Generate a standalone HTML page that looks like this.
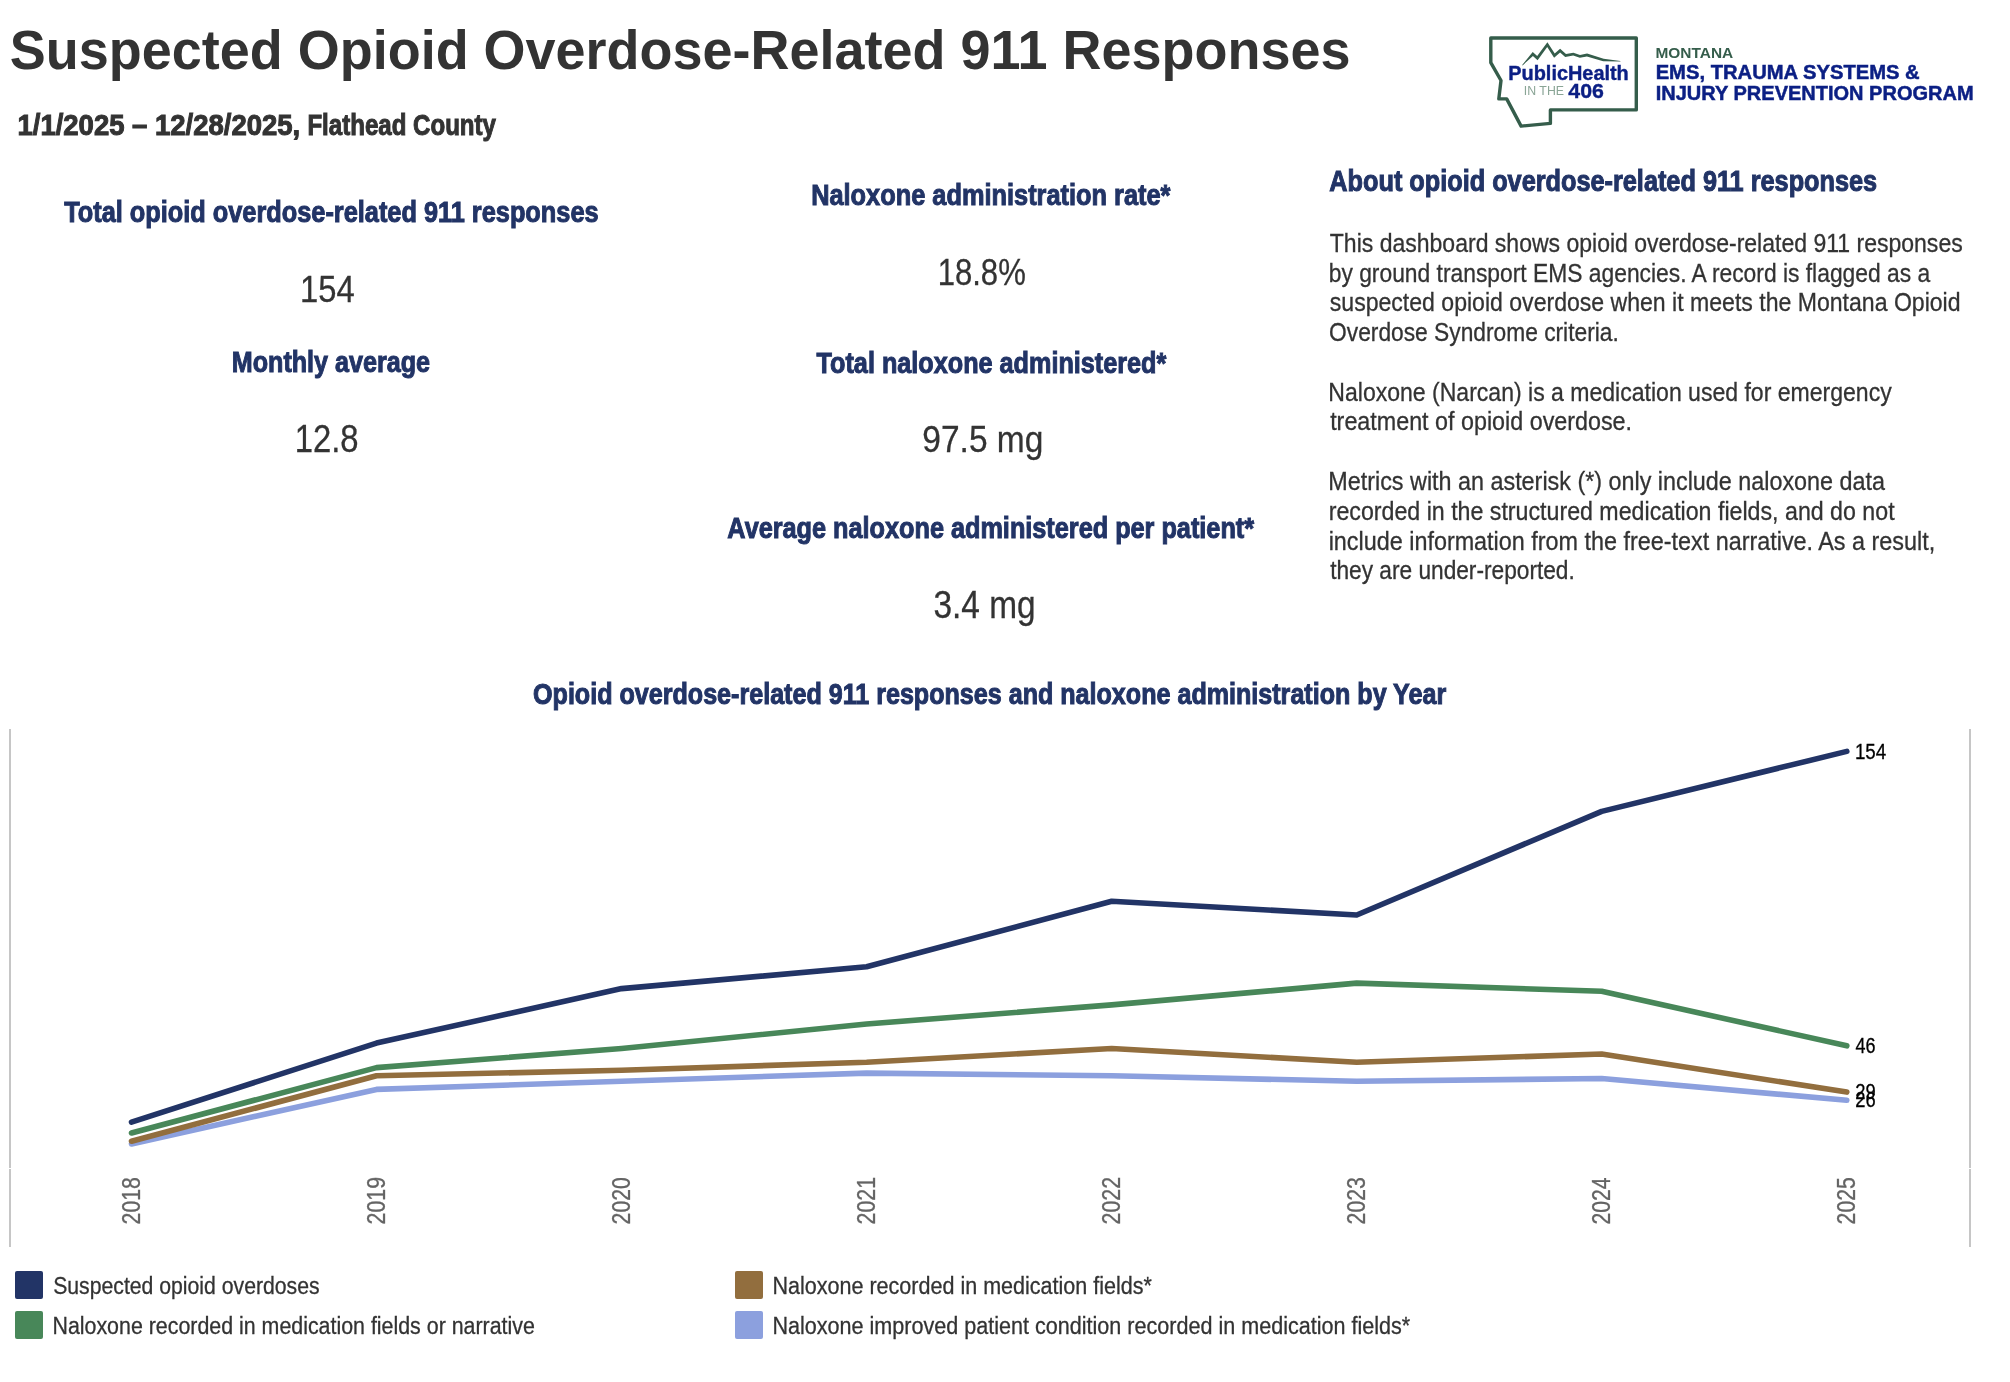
<!DOCTYPE html>
<html lang="en"><head><meta charset="utf-8"><title>Suspected Opioid Overdose-Related 911 Responses</title>
<style>
html,body{margin:0;padding:0;background:#fff;}
body{width:2010px;height:1382px;position:relative;overflow:hidden;font-family:"Liberation Sans",sans-serif;}
.abs{position:absolute;left:0;top:0;}
.txt{position:absolute;left:0;top:0;width:2010px;height:1382px;filter:grayscale(0.001);}
.t{position:absolute;left:0;top:0;white-space:nowrap;line-height:1;transform-origin:0 0;font-family:"Liberation Sans",sans-serif}
</style></head><body>
<svg class="abs" width="2010" height="1382" viewBox="0 0 2010 1382">
<rect x="9" y="729" width="2" height="439" fill="#c6c6c6"/><rect x="9" y="1169" width="2" height="78" fill="#c6c6c6"/>
<rect x="1969" y="729" width="2" height="439" fill="#c6c6c6"/><rect x="1969" y="1169" width="2" height="78" fill="#c6c6c6"/>
<polyline points="131.5,1143.9 376.5,1089.4 621.6,1081.2 866.6,1073.1 1111.7,1075.8 1356.7,1081.2 1601.7,1078.5 1846.8,1100.3" fill="none" stroke="#8ca0de" stroke-width="5.6" stroke-linecap="round" stroke-linejoin="round"/><polyline points="131.5,1141.2 376.5,1075.8 621.6,1070.3 866.6,1062.2 1111.7,1048.5 1356.7,1062.2 1601.7,1054.0 1846.8,1092.1" fill="none" stroke="#926e3e" stroke-width="5.6" stroke-linecap="round" stroke-linejoin="round"/><polyline points="131.5,1133.0 376.5,1067.6 621.6,1048.5 866.6,1024.0 1111.7,1004.9 1356.7,983.1 1601.7,991.3 1846.8,1045.8" fill="none" stroke="#488759" stroke-width="5.6" stroke-linecap="round" stroke-linejoin="round"/><polyline points="131.5,1122.1 376.5,1043.1 621.6,988.6 866.6,966.8 1111.7,901.3 1356.7,915.0 1601.7,811.4 1846.8,751.4" fill="none" stroke="#223466" stroke-width="5.6" stroke-linecap="round" stroke-linejoin="round"/>
<rect x="15" y="1271" width="28" height="28" rx="2" fill="#223466"/>
<rect x="15" y="1311" width="28" height="28" rx="2" fill="#488759"/>
<rect x="735" y="1271" width="28" height="28" rx="2" fill="#926e3e"/>
<rect x="735" y="1311" width="28" height="28" rx="2" fill="#8ca0de"/>
<path d="M1490.8,38 L1636.3,38 L1636.3,109.9 L1550.4,109.9 L1550.4,123.4 L1521.1,126.1 L1506.7,98.9 L1498.8,98.9 L1501,80.5 L1490.8,62.6 Z" fill="none" stroke="#355d4b" stroke-width="3.4" stroke-linejoin="round"/>
<path d="M1522.6,65.4 L1532.9,56.0 L1537.6,60.2 L1547.2,47.1 L1554.1,57.8 L1560.1,52.6 L1565.2,57.1 L1573.2,55.6 L1579.8,57.8 L1586.9,56.6 L1603.2,61.3 L1620.4,61.5 L1620.4,61.1 L1603.6,58.7 L1587.1,53.6 L1580.0,55.0 L1573.4,52.8 L1566.0,54.1 L1560.1,48.8 L1554.7,53.4 L1547.4,42.3 L1537.2,56.0 L1532.7,52.0 L1522.2,65.0 Z" fill="#355d4b"/>
</svg>
<div class="txt">
<div class="t" style="font-size:55.75px;font-weight:700;color:#333333;transform:translate(9.86px,22.8px) scaleX(0.9680)">Suspected Opioid Overdose-Related 911 Responses</div>
<div class="t" style="font-size:28.73px;font-weight:700;-webkit-text-stroke:1.0px #333333;color:#333333;transform:translate(17.46px,110.6px) scaleX(0.9572)">1/1/2025 – 12/28/2025,</div>
<div class="t" style="font-size:28.73px;font-weight:700;-webkit-text-stroke:1.0px #333333;color:#333333;transform:translate(307.41px,110.6px) scaleX(0.8381)">Flathead County</div>
<div class="t" style="font-size:29.01px;font-weight:700;-webkit-text-stroke:1.0px #223466;color:#223466;transform:translate(64.14px,198.1px) scaleX(0.8734)">Total opioid overdose-related 911 responses</div>
<div class="t" style="font-size:37.83px;-webkit-text-stroke:0.3px #333333;color:#333333;transform:translate(299.98px,270.65px) scaleX(0.8651)">154</div>
<div class="t" style="font-size:29.3px;font-weight:700;-webkit-text-stroke:1.0px #223466;color:#223466;transform:translate(231.76px,347.3px) scaleX(0.8579)">Monthly average</div>
<div class="t" style="font-size:38.12px;-webkit-text-stroke:0.3px #333333;color:#333333;transform:translate(294.68px,419.75px) scaleX(0.8617)">12.8</div>
<div class="t" style="font-size:29.01px;font-weight:700;-webkit-text-stroke:1.0px #223466;color:#223466;transform:translate(811.15px,180.5px) scaleX(0.8743)">Naloxone administration rate*</div>
<div class="t" style="font-size:37.83px;-webkit-text-stroke:0.3px #333333;color:#333333;transform:translate(937.68px,253.65px) scaleX(0.8214)">18.8%</div>
<div class="t" style="font-size:29.16px;font-weight:700;-webkit-text-stroke:1.0px #223466;color:#223466;transform:translate(816.53px,348.5px) scaleX(0.8647)">Total naloxone administered*</div>
<div class="t" style="font-size:37.83px;-webkit-text-stroke:0.3px #333333;color:#333333;transform:translate(922.36px,420.75px) scaleX(0.8852)">97.5 mg</div>
<div class="t" style="font-size:28.87px;font-weight:700;-webkit-text-stroke:1.0px #223466;color:#223466;transform:translate(727.34px,514px) scaleX(0.8750)">Average naloxone administered per patient*</div>
<div class="t" style="font-size:37.97px;-webkit-text-stroke:0.3px #333333;color:#333333;transform:translate(933.39px,587.25px) scaleX(0.8801)">3.4 mg</div>
<div class="t" style="font-size:29.16px;font-weight:700;-webkit-text-stroke:1.0px #223466;color:#223466;transform:translate(1329.34px,167.4px) scaleX(0.8669)">About opioid overdose-related 911 responses</div>
<div class="t" style="font-size:28.59px;font-weight:700;-webkit-text-stroke:1.0px #223466;color:#223466;transform:translate(533.05px,680.4px) scaleX(0.8782)">Opioid overdose-related 911 responses and naloxone administration by Year</div>
<div class="t" style="font-size:25.74px;-webkit-text-stroke:0.3px #333333;color:#333333;transform:translate(1329.77px,230.75px) scaleX(0.8944)">This dashboard shows opioid overdose-related 911 responses</div>
<div class="t" style="font-size:25.74px;-webkit-text-stroke:0.3px #333333;color:#333333;transform:translate(1328.71px,260.53px) scaleX(0.8870)">by ground transport EMS agencies. A record is flagged as a</div>
<div class="t" style="font-size:25.74px;-webkit-text-stroke:0.3px #333333;color:#333333;transform:translate(1329.77px,290.31px) scaleX(0.8962)">suspected opioid overdose when it meets the Montana Opioid</div>
<div class="t" style="font-size:25.74px;-webkit-text-stroke:0.3px #333333;color:#333333;transform:translate(1329.07px,320.09px) scaleX(0.8845)">Overdose Syndrome criteria.</div>
<div class="t" style="font-size:25.74px;-webkit-text-stroke:0.3px #333333;color:#333333;transform:translate(1328.33px,379.65px) scaleX(0.8951)">Naloxone (Narcan) is a medication used for emergency</div>
<div class="t" style="font-size:25.74px;-webkit-text-stroke:0.3px #333333;color:#333333;transform:translate(1330.14px,409.43px) scaleX(0.9057)">treatment of opioid overdose.</div>
<div class="t" style="font-size:25.74px;-webkit-text-stroke:0.3px #333333;color:#333333;transform:translate(1328.31px,468.99px) scaleX(0.9072)">Metrics with an asterisk (*) only include naloxone data</div>
<div class="t" style="font-size:25.74px;-webkit-text-stroke:0.3px #333333;color:#333333;transform:translate(1328.69px,498.77px) scaleX(0.9011)">recorded in the structured medication fields, and do not</div>
<div class="t" style="font-size:25.74px;-webkit-text-stroke:0.3px #333333;color:#333333;transform:translate(1328.68px,528.55px) scaleX(0.9079)">include information from the free-text narrative. As a result,</div>
<div class="t" style="font-size:25.74px;-webkit-text-stroke:0.3px #333333;color:#333333;transform:translate(1330.13px,558.33px) scaleX(0.8815)">they are under-reported.</div>
<div class="t" style="font-size:24.32px;-webkit-text-stroke:0.3px #333333;color:#333333;transform:translate(53.17px,1273.95px) scaleX(0.8721)">Suspected opioid overdoses</div>
<div class="t" style="font-size:24.32px;-webkit-text-stroke:0.3px #333333;color:#333333;transform:translate(52.46px,1313.75px) scaleX(0.8792)">Naloxone recorded in medication fields or narrative</div>
<div class="t" style="font-size:24.32px;-webkit-text-stroke:0.3px #333333;color:#333333;transform:translate(772.45px,1273.95px) scaleX(0.8857)">Naloxone recorded in medication fields*</div>
<div class="t" style="font-size:24.32px;-webkit-text-stroke:0.3px #333333;color:#333333;transform:translate(772.45px,1313.75px) scaleX(0.8871)">Naloxone improved patient condition recorded in medication fields*</div>
<div class="t" style="font-size:21.62px;-webkit-text-stroke:0.3px #000000;color:#000000;transform:translate(1854.94px,740.75px) scaleX(0.8670)">154</div>
<div class="t" style="font-size:21.19px;-webkit-text-stroke:0.3px #000000;color:#000000;transform:translate(1855.49px,1034.75px) scaleX(0.8501)">46</div>
<div class="t" style="font-size:21.19px;-webkit-text-stroke:0.3px #000000;color:#000000;transform:translate(1855.26px,1080.65px) scaleX(0.8685)">29</div>
<div class="t" style="font-size:21.19px;-webkit-text-stroke:0.3px #000000;color:#000000;transform:translate(1855.27px,1089.15px) scaleX(0.8644)">26</div>
<div class="t" style="font-size:19.49px;font-weight:700;-webkit-text-stroke:0.4px #0b1f84;color:#0b1f84;transform:translate(1508.28px,63.9px) scaleX(1.0210)">PublicHealth</div>
<div class="t" style="font-size:20.2px;font-weight:700;-webkit-text-stroke:0.4px #0b1f84;color:#0b1f84;transform:translate(1568.29px,80.7px) scaleX(1.0547)">406</div>
<div class="t" style="font-size:12.66px;color:#8aa596;transform:translate(1523.83px,84.7px) scaleX(0.9736)">IN THE</div>
<div class="t" style="font-size:15.36px;font-weight:700;color:#355d4b;transform:translate(1655.5px,44.8px) scaleX(1.0045)">MONTANA</div>
<div class="t" style="font-size:20.2px;font-weight:700;-webkit-text-stroke:0.5px #0b1f84;color:#0b1f84;transform:translate(1655.65px,61.65px) scaleX(1.0004)">EMS, TRAUMA SYSTEMS &amp;</div>
<div class="t" style="font-size:20.62px;font-weight:700;-webkit-text-stroke:0.5px #0b1f84;color:#0b1f84;transform:translate(1655.68px,83.05px) scaleX(0.9706)">INJURY PREVENTION PROGRAM</div>
<div class="t" style="font-size:25.32px;color:#646464;-webkit-text-stroke:0.3px #646464;transform:translate(119px,1224.41px) rotate(-90deg) scaleX(0.8401)">2018</div>
<div class="t" style="font-size:25.32px;color:#646464;-webkit-text-stroke:0.3px #646464;transform:translate(364.04px,1224.41px) rotate(-90deg) scaleX(0.8416)">2019</div>
<div class="t" style="font-size:25.32px;color:#646464;-webkit-text-stroke:0.3px #646464;transform:translate(609.08px,1224.41px) rotate(-90deg) scaleX(0.8385)">2020</div>
<div class="t" style="font-size:25.32px;color:#646464;-webkit-text-stroke:0.3px #646464;transform:translate(854.12px,1224.41px) rotate(-90deg) scaleX(0.8416)">2021</div>
<div class="t" style="font-size:25.32px;color:#646464;-webkit-text-stroke:0.3px #646464;transform:translate(1099.16px,1224.41px) rotate(-90deg) scaleX(0.8416)">2022</div>
<div class="t" style="font-size:25.32px;color:#646464;-webkit-text-stroke:0.3px #646464;transform:translate(1344.2px,1224.41px) rotate(-90deg) scaleX(0.8401)">2023</div>
<div class="t" style="font-size:25.32px;color:#646464;-webkit-text-stroke:0.3px #646464;transform:translate(1589.24px,1224.4px) rotate(-90deg) scaleX(0.8339)">2024</div>
<div class="t" style="font-size:25.32px;color:#646464;-webkit-text-stroke:0.3px #646464;transform:translate(1834.28px,1224.41px) rotate(-90deg) scaleX(0.8385)">2025</div>
</div>
</body></html>
